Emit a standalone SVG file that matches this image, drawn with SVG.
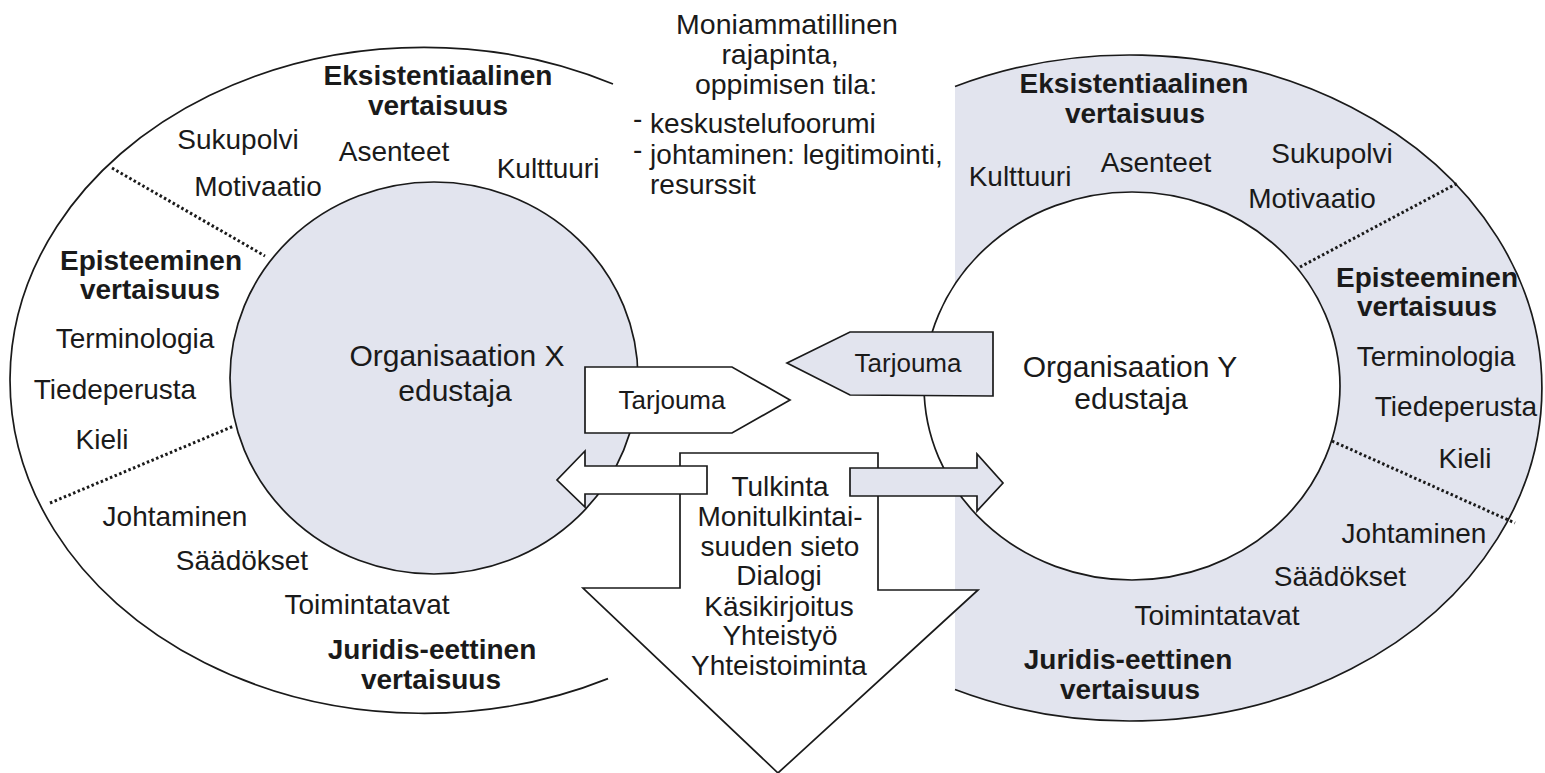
<svg xmlns="http://www.w3.org/2000/svg" width="1545" height="773" viewBox="0 0 1545 773">
<style>
  text { font-family: "Liberation Sans", Arial, sans-serif; fill: #1a1a1a; }
  .l { font-size: 28px; text-anchor: middle; }
  .b { font-size: 28px; font-weight: bold; text-anchor: middle; }
  .o { font-size: 30px; text-anchor: middle; }
  .h { font-size: 28.5px; text-anchor: middle; }
  .li { font-size: 28px; }
  .t { font-size: 26px; text-anchor: middle; }
  .line { fill: none; stroke: #1a1a1a; stroke-width: 1.7; }
  .dot { fill: none; stroke: #1a1a1a; stroke-width: 3; stroke-dasharray: 2.5 2.5; }
  .shade { fill: #e2e4ee; }
  .box { stroke: #1a1a1a; stroke-width: 1.7; stroke-linejoin: miter; }
</style>
<rect width="1545" height="773" fill="#ffffff"/>

<g id="ring-x">
  <path class="line" d="M 613 84 A 414 333 0 1 0 608 678.6"/>
  <ellipse cx="434" cy="378" rx="204" ry="196" class="shade" stroke="#1a1a1a" stroke-width="1.7"/>
  <line class="dot" x1="112" y1="168" x2="265" y2="256"/>
  <line class="dot" x1="50" y1="503" x2="234" y2="426"/>
  <text class="b" x="438" y="85">Eksistentiaalinen<tspan x="438" dy="30">vertaisuus</tspan></text>
  <text class="l" x="238" y="149">Sukupolvi</text>
  <text class="l" x="394" y="161">Asenteet</text>
  <text class="l" x="548" y="178">Kulttuuri</text>
  <text class="l" x="258" y="196">Motivaatio</text>
  <text class="b" x="151" y="270">Episteeminen<tspan x="150" dy="29">vertaisuus</tspan></text>
  <text class="l" x="135" y="348">Terminologia</text>
  <text class="l" x="115" y="399">Tiedeperusta</text>
  <text class="l" x="102" y="449">Kieli</text>
  <text class="l" x="175" y="526">Johtaminen</text>
  <text class="l" x="242" y="570">Säädökset</text>
  <text class="l" x="367" y="614">Toimintatavat</text>
  <text class="b" x="432" y="659">Juridis-eettinen<tspan x="431" dy="30">vertaisuus</tspan></text>
  <text class="o" x="457" y="366">Organisaation X<tspan x="455" dy="35">edustaja</tspan></text>
</g>

<g id="ring-y">
  <path class="shade" d="M 955 86.5 A 412 333 0 1 1 955 689.5 Z"/>
  <path class="line" d="M 955 86.5 A 412 333 0 1 1 955 689.5"/>
  <ellipse cx="1132" cy="386" rx="208" ry="194" fill="#ffffff" stroke="#1a1a1a" stroke-width="1.7"/>
  <line class="dot" x1="1300" y1="267" x2="1458" y2="183"/>
  <line class="dot" x1="1332" y1="441" x2="1515" y2="523"/>
  <text class="b" x="1134" y="93">Eksistentiaalinen<tspan x="1135" dy="30">vertaisuus</tspan></text>
  <text class="l" x="1020" y="186">Kulttuuri</text>
  <text class="l" x="1156" y="172">Asenteet</text>
  <text class="l" x="1332" y="163">Sukupolvi</text>
  <text class="l" x="1312" y="208">Motivaatio</text>
  <text class="b" x="1427" y="287">Episteeminen<tspan x="1427" dy="29">vertaisuus</tspan></text>
  <text class="l" x="1436" y="366">Terminologia</text>
  <text class="l" x="1456" y="416">Tiedeperusta</text>
  <text class="l" x="1465" y="468">Kieli</text>
  <text class="l" x="1414" y="543">Johtaminen</text>
  <text class="l" x="1340" y="586">Säädökset</text>
  <text class="l" x="1217" y="625">Toimintatavat</text>
  <text class="b" x="1128" y="669">Juridis-eettinen<tspan x="1130" dy="30">vertaisuus</tspan></text>
  <text class="o" x="1130" y="377">Organisaation Y<tspan x="1131" dy="32">edustaja</tspan></text>
</g>

<g id="interface">
  <text class="h" x="787" y="34">Moniammatillinen<tspan x="780" dy="30">rajapinta,</tspan><tspan x="786" dy="30">oppimisen tila:</tspan></text>
  <text class="li" x="633" y="133"><tspan dy="-5">-</tspan><tspan dy="5"> keskustelufoorumi</tspan></text>
  <text class="li" x="633" y="164"><tspan dy="-5">-</tspan><tspan dy="5"> johtaminen: legitimointi,</tspan><tspan x="650" dy="30">resurssit</tspan></text>
</g>

<g id="shared-practice">
  <polygon class="box" fill="#ffffff" points="680,453 878,453 878,590 978,590 778,773 583,588 680,588"/>
  <text class="l" x="780" y="496">Tulkinta<tspan x="780" dy="30">Monitulkintai-</tspan><tspan x="780" dy="30">suuden sieto</tspan><tspan x="779" dy="29">Dialogi</tspan><tspan x="779" dy="31">Käsikirjoitus</tspan><tspan x="780" dy="29">Yhteistyö</tspan><tspan x="779" dy="30">Yhteistoiminta</tspan></text>
</g>

<g id="connectors">
  <polygon class="box" fill="#ffffff" points="707,466 585,466 585,451 557,480 585,507 585,494 707,494"/>
  <polygon class="box shade" stroke="#1a1a1a" points="850,468 977,468 977,454 1003,483 977,511 977,496 850,496"/>
</g>

<g id="tarjouma-x">
  <polygon class="box" fill="#ffffff" points="585,367 732,367 790,400 732,433 585,433"/>
  <text class="t" x="672" y="409">Tarjouma</text>
</g>

<g id="tarjouma-y">
  <polygon class="box shade" stroke="#1a1a1a" points="787,363 850,332 993,332 993,396 850,395"/>
  <text class="t" x="908" y="372">Tarjouma</text>
</g>
</svg>
